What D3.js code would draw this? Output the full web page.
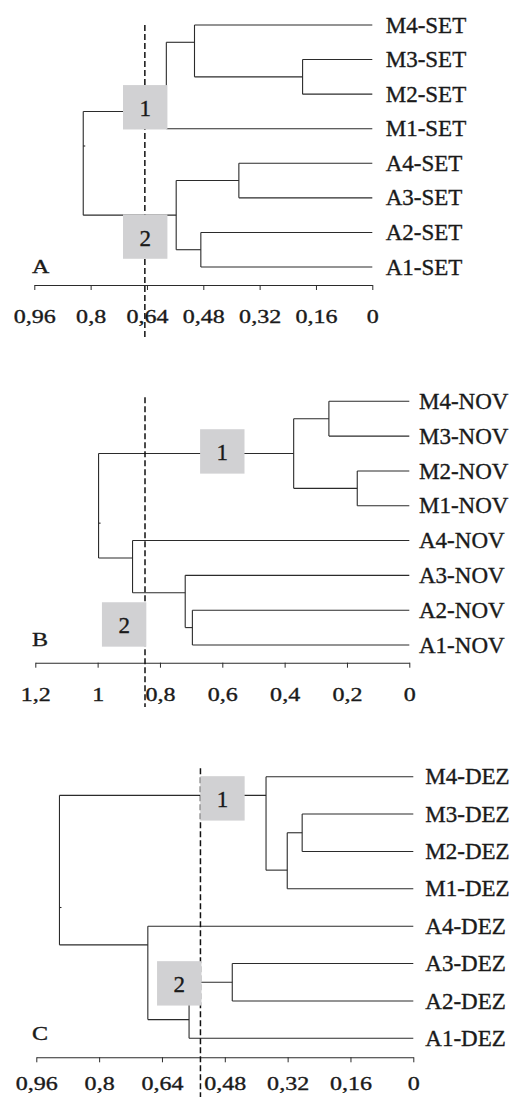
<!DOCTYPE html>
<html>
<head>
<meta charset="utf-8">
<script src="https://cdnjs.cloudflare.com/ajax/libs/d3/7.8.5/d3.min.js"></script>
<style>
    body { margin: 0; background: #fff; }
    svg { display: block; }
    text { font-family: "Liberation Serif", "Times New Roman", serif; fill: #1a1a1a; stroke: #1a1a1a; stroke-width: 0.35px; }
</style>
</head>
<body>
<svg id="viz_dendro"></svg>
<script>
// leaves top to bottom; merges are [upper child, lower child, distance],
// children 0..7 are leaves, 8.. are earlier merges (linkage style)
var leavesA = ["M4-SET", "M3-SET", "M2-SET", "M1-SET", "A4-SET", "A3-SET", "A2-SET", "A1-SET"];
var mergesA = [[1, 2, 0.198], [0, 8, 0.505], [9, 3, 0.585], [4, 5, 0.379],
               [6, 7, 0.487], [11, 12, 0.557], [10, 13, 0.821]];
var cutA = 0.646;
var boxesA = [{label: "1", dist: 0.645, pos: 2.38}, {label: "2", dist: 0.645, pos: 6.12}];
var ticksA = [0.96, 0.8, 0.64, 0.48, 0.32, 0.16, 0];
var tickLabelsA = ["0,96", "0,8", "0,64", "0,48", "0,32", "0,16", "0"];

var leavesB = ["M4-NOV", "M3-NOV", "M2-NOV", "M1-NOV", "A4-NOV", "A3-NOV", "A2-NOV", "A1-NOV"];
var mergesB = [[0, 1, 0.258], [2, 3, 0.167], [8, 9, 0.371], [6, 7, 0.696],
               [5, 11, 0.719], [4, 12, 0.888], [10, 13, 0.997]];
var cutB = 0.848;
var boxesB = [{label: "1", dist: 0.600, pos: 1.44}, {label: "2", dist: 0.915, pos: 6.41}];
var ticksB = [1.2, 1, 0.8, 0.6, 0.4, 0.2, 0];
var tickLabelsB = ["1,2", "1", "0,8", "0,6", "0,4", "0,2", "0"];

var leavesC = ["M4-DEZ", "M3-DEZ", "M2-DEZ", "M1-DEZ", "A4-DEZ", "A3-DEZ", "A2-DEZ", "A1-DEZ"];
var mergesC = [[1, 2, 0.283], [8, 3, 0.321], [0, 9, 0.375], [5, 6, 0.461],
               [11, 7, 0.571], [4, 12, 0.676], [10, 13, 0.901]];
var cutC = 0.542;
var boxesC = [{label: "1", dist: 0.486, pos: 0.58}, {label: "2", dist: 0.596, pos: 5.53}];
var ticksC = [0.96, 0.8, 0.64, 0.48, 0.32, 0.16, 0];
var tickLabelsC = ["0,96", "0,8", "0,64", "0,48", "0,32", "0,16", "0"];

var width = 515,
    height = 1097,
    box_size = 44.4,
    line_color = "#2b2b2b";

var svg = d3.select("svg#viz_dendro")
    .attr("width", width)
    .attr("height", height);

var panels = [
    {letter: "A", leaves: leavesA, merges: mergesA, cut: cutA, boxes: boxesA, ticks: ticksA, tick_labels: tickLabelsA,
     x0: 34.3, x1: 372.3, y_top: 25, y_bottom: 267, axis_y: 285, label_y: 323,
     cut_top: 25, cut_bottom: 337, leaf_gap: 13.4, letter_y: 272.5},
    {letter: "B", leaves: leavesB, merges: mergesB, cut: cutB, boxes: boxesB, ticks: ticksB, tick_labels: tickLabelsB,
     x0: 35.3, x1: 409.3, y_top: 401.3, y_bottom: 645, axis_y: 662.7, label_y: 701,
     cut_top: 397.3, cut_bottom: 707, leaf_gap: 9.7, letter_y: 645.5},
    {letter: "C", leaves: leavesC, merges: mergesC, cut: cutC, boxes: boxesC, ticks: ticksC, tick_labels: tickLabelsC,
     x0: 36.3, x1: 413.3, y_top: 776.7, y_bottom: 1038.3, axis_y: 1057.3, label_y: 1090.5,
     cut_top: 768.3, cut_bottom: 1097, leaf_gap: 12, letter_y: 1040}
];

panels.forEach(function(p) {
    var g = svg.append("g").attr("class", "panel");
    var n = p.leaves.length;

    var x = d3.scaleLinear()
        .domain([p.ticks[0], 0])
        .range([p.x0, p.x1]);

    var y = d3.scaleLinear()
        .domain([0, n - 1])
        .range([p.y_top, p.y_bottom]);

    // nodes: the parent stem sits between the last leaf of the upper child
    // and the first leaf of the lower child
    var nodes = p.leaves.map(function(name, i) {
        return {h: 0, first: i, last: i, y: y(i)};
    });
    p.merges.forEach(function(m) {
        var a = nodes[m[0]], b = nodes[m[1]];
        nodes.push({
            h: m[2], a: a, b: b,
            first: a.first, last: b.last,
            y: (y(a.last) + y(b.first)) / 2
        });
    });

    var segs = [];
    nodes.slice(n).forEach(function(d) {
        segs.push([x(d.h), d.a.y, x(d.h), d.b.y]);
        segs.push([x(d.h), d.a.y, x(d.a.h), d.a.y]);
        segs.push([x(d.h), d.b.y, x(d.b.h), d.b.y]);
    });
    var root = nodes[nodes.length - 1];
    segs.push([x(root.h), root.y, x(root.h) + 2, root.y]);

    g.selectAll("line.link")
        .data(segs)
        .enter()
        .append("line")
            .attr("class", "link")
            .attr("x1", function(d) { return d[0]; })
            .attr("y1", function(d) { return d[1]; })
            .attr("x2", function(d) { return d[2]; })
            .attr("y2", function(d) { return d[3]; })
            .style("stroke", line_color)
            .style("stroke-width", 1.1);

    g.selectAll("text.leaf")
        .data(p.leaves)
        .enter()
        .append("text")
            .attr("class", "leaf")
            .attr("x", x(0) + p.leaf_gap)
            .attr("y", function(d, i) { return y(i); })
            .attr("dy", "0.33em")
            .style("font-size", "23px")
            .text(function(d) { return d; });

    // axis
    var axis = d3.axisBottom(x)
        .tickValues(p.ticks)
        .tickSize(5)
        .tickSizeOuter(0)
        .tickFormat(function(d, i) { return p.tick_labels[i]; });

    var axis_g = g.append("g")
        .attr("transform", "translate(0," + p.axis_y + ")")
        .style("color", line_color)
        .call(axis);

    axis_g.select(".domain").style("stroke-width", 1.1);

    axis_g.selectAll("text")
        .attr("y", p.label_y - p.axis_y)
        .attr("dy", 0)
        .attr("transform", "scale(1.3,1)")
        .attr("font-family", null)
        .style("font-size", "18.5px")
        .style("fill", "#1a1a1a");

    g.append("text")
        .attr("transform", "translate(" + [32, p.letter_y] + ") scale(1.3,1)")
        .style("font-size", "18.5px")
        .text(p.letter);

    // cut line
    g.append("line")
        .attr("x1", x(p.cut))
        .attr("x2", x(p.cut))
        .attr("y1", p.cut_top)
        .attr("y2", p.cut_bottom)
        .style("stroke", "#111")
        .style("stroke-width", 1.5)
        .style("stroke-dasharray", "6,3");

    // group boxes
    var box_g = g.selectAll("g.box")
        .data(p.boxes)
        .enter()
        .append("g")
            .attr("class", "box")
            .attr("transform", function(d) {
                return "translate(" + [x(d.dist), y(d.pos)] + ")";
            });

    box_g.append("rect")
        .attr("x", -box_size / 2)
        .attr("y", -box_size / 2)
        .attr("width", box_size)
        .attr("height", box_size)
        .style("fill", "#d1d1d3");

    box_g.append("text")
        .attr("text-anchor", "middle")
        .attr("y", 9)
        .style("font-size", "23px")
        .text(function(d) { return d.label; });
});
</script>
</body>
</html>
